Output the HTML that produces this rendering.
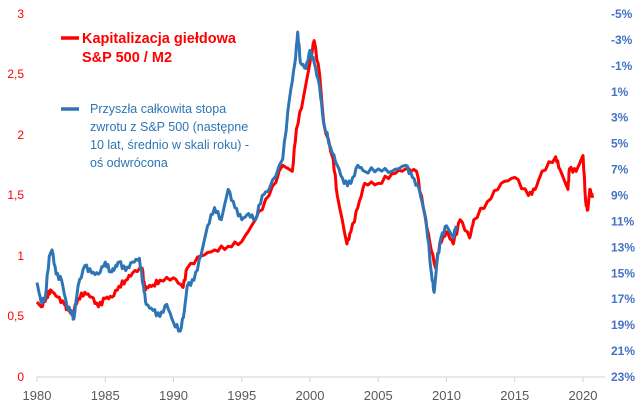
<!DOCTYPE html>
<html><head><meta charset="utf-8"><style>
body{margin:0;background:#fff;}
svg{display:block;font-family:"Liberation Sans",sans-serif;}
</style></head><body>
<svg id="c" width="643" height="416" viewBox="0 0 643 416">
<line x1="37" y1="377" x2="605" y2="377" stroke="#d0d0d0" stroke-width="1"/>
<g id="ticks" stroke="#d0d0d0" stroke-width="1"></g>
<g id="xl" fill="#595959" font-size="13" text-anchor="middle"></g>
<g fill="#ff0000" font-size="12" text-anchor="end">
<text x="24" y="18">3</text><text x="24" y="78">2,5</text><text x="24" y="139">2</text><text x="24" y="199">1,5</text><text x="24" y="260">1</text><text x="24" y="320">0,5</text><text x="24" y="381">0</text>
</g>
<g id="r" fill="#4472c4" font-size="12" font-weight="bold" text-anchor="start"></g>
<g id="lines"></g>
<line x1="61" y1="38" x2="79" y2="38" stroke="#ff0000" stroke-width="3.5"/>
<text x="82" y="43" fill="#ff0000" font-size="14.5" font-weight="bold">Kapitalizacja giełdowa</text>
<text x="82" y="62" fill="#ff0000" font-size="14.5" font-weight="bold">S&amp;P 500 / M2</text>
<line x1="61" y1="109" x2="79" y2="109" stroke="#2e75b6" stroke-width="3.5"/>
<g fill="#2e75b6" font-size="12.5">
<text x="90" y="113">Przyszła całkowita stopa</text>
<text x="90" y="131">zwrotu z S&amp;P 500 (następne</text>
<text x="90" y="149">10 lat, średnio w skali roku) -</text>
<text x="90" y="167">oś odwrócona</text>
</g>
</svg>
<script>
var ns="http://www.w3.org/2000/svg";
function el(n,a,p,t){var e=document.createElementNS(ns,n);for(var k in a)e.setAttribute(k,a[k]);if(t)e.textContent=t;document.getElementById(p).appendChild(e);}
for(var i=0;i<15;i++){el("text",{x:611,y:18+i*25.93},"r",(-5+2*i)+"%");}
for(var y=1980;y<=2020;y+=5){var x=37+(y-1980)*13.65;el("line",{x1:x,y1:377,x2:x,y2:382},"ticks");el("text",{x:x,y:400},"xl",y);}
function X(y){return 37+(y-1980)*13.65;}function Y(v){return 377-v*121;}
var red=[[1980,.62],[1980.3,.58],[1980.7,.66],[1981,.72],[1981.5,.66],[1982,.6],[1982.3,.55],[1982.6,.52],[1983,.65],[1983.5,.7],[1984,.66],[1984.5,.58],[1985,.65],[1985.5,.66],[1986,.75],[1986.5,.8],[1987,.86],[1987.7,.9],[1987.9,.72],[1988,.74],[1988.5,.76],[1989,.8],[1990,.82],[1990.7,.74],[1991,.9],[1992,1.0],[1993,1.05],[1994,1.08],[1995,1.12],[1996,1.3],[1997,1.5],[1998,1.75],[1998.7,1.7],[1999,2.05],[1999.5,2.3],[2000,2.6],[2000.3,2.78],[2000.7,2.5],[2001,2.1],[2001.7,1.8],[2002,1.5],[2002.7,1.1],[2003,1.2],[2003.5,1.4],[2004,1.6],[2005,1.6],[2006,1.68],[2007,1.72],[2007.8,1.7],[2008.3,1.4],[2008.8,1.1],[2009.2,.9],[2009.5,1.1],[2010,1.2],[2010.5,1.1],[2011,1.3],[2011.7,1.15],[2012,1.3],[2013,1.45],[2014,1.6],[2015,1.65],[2016,1.5],[2016.5,1.55],[2017,1.7],[2018,1.82],[2018.3,1.72],[2018.9,1.55],[2019,1.72],[2019.5,1.7],[2020,1.83],[2020.2,1.45],[2020.35,1.38],[2020.5,1.55],[2020.7,1.48]];
var blue=[[1980,.78],[1980.3,.62],[1980.6,.65],[1980.9,1.0],[1981.1,1.05],[1981.4,.85],[1981.8,.8],[1982.2,.58],[1982.5,.55],[1982.7,.48],[1983,.75],[1983.5,.92],[1984,.86],[1984.5,.85],[1985,.95],[1985.4,.87],[1985.7,.9],[1986,.95],[1986.5,.88],[1987,.95],[1987.5,.98],[1987.8,.75],[1988,.6],[1988.5,.55],[1989,.5],[1989.5,.6],[1990,.45],[1990.5,.38],[1990.8,.55],[1991,.75],[1991.5,.8],[1992,1.0],[1992.5,1.25],[1993,1.4],[1993.5,1.3],[1994,1.55],[1994.5,1.4],[1995,1.3],[1995.5,1.35],[1996,1.3],[1996.5,1.5],[1997,1.55],[1998,1.8],[1998.5,2.3],[1998.9,2.6],[1999.1,2.85],[1999.3,2.6],[1999.7,2.55],[2000,2.7],[2000.3,2.6],[2000.7,2.4],[2001,2.1],[2001.5,1.9],[2002,1.75],[2002.5,1.6],[2003,1.6],[2003.5,1.75],[2004,1.7],[2005,1.72],[2006,1.7],[2007,1.75],[2007.5,1.65],[2008,1.55],[2008.5,1.3],[2008.9,.85],[2009.1,.7],[2009.3,.95],[2009.6,1.15],[2010,1.25],[2010.5,1.15],[2010.7,1.25]];
function jit(a,amp){var o=[];for(var i=0;i<a.length-1;i++){var p=a[i],q=a[i+1];for(var k=0;k<4;k++){var t=k/4;var v=p[1]+(q[1]-p[1])*t+(k?Math.sin(i*7.3+k*3.1)*amp:0);o.push([p[0]+(q[0]-p[0])*t,v]);}}o.push(a[a.length-1]);return o;}
function path(a,c){var d="";jit(a,.02).forEach(function(p,i){d+=(i?"L":"M")+X(p[0]).toFixed(1)+" "+Y(p[1]).toFixed(1);});el("path",{d:d,fill:"none",stroke:c,"stroke-width":3,"stroke-linejoin":"round"},"lines");}
path(red,"#ff0000");path(blue,"#2e75b6");
</script>
</body></html>
